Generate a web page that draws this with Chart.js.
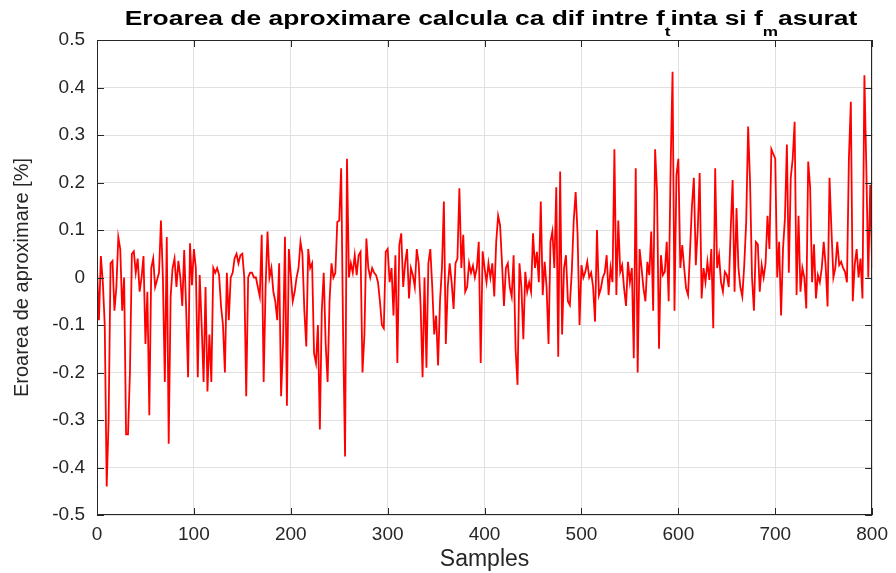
<!DOCTYPE html>
<html>
<head>
<meta charset="utf-8">
<script src="https://cdn.jsdelivr.net/npm/chart.js@4.4.1/dist/chart.umd.min.js"></script>
<style>
  html, body { margin: 0; padding: 0; background: #fff; }
</style>
</head>
<body>
<canvas id="c" width="896" height="573"></canvas>
<script>
// ===== Eroarea de aproximare — grafic (Chart.js) =====
// valori, la fiecare 2 esantioane (0..800)

const STEP = 2;
const errA = [ // esantioane 0..198
  0.02, -0.09, 0.045, -0.01, -0.1, -0.44, -0.3, 0.03, 0.035, -0.07,
  -0.02, 0.085, 0.06, -0.07, 0.0, -0.33, -0.33, -0.2, 0.05, 0.055,
  0.01, 0.04, -0.03, 0.0, 0.045, -0.14, -0.03, -0.29, 0.02, 0.04,
  -0.02, -0.005, 0.01, 0.12, 0.0, -0.22, 0.085, -0.35, -0.04, 0.02,
  0.04, -0.02, 0.035, 0.0, -0.06, 0.058, -0.065, -0.21, 0.072, -0.016,
  0.06, 0.02, -0.21, 0.005, -0.1, -0.22, -0.02, -0.24, -0.12, -0.22,
  0.02, 0.01, 0.02, 0.005, -0.06, -0.1, -0.2, 0.01, -0.09, 0.0,
  0.01, 0.04, 0.05, 0.03, 0.047, 0.05, 0.0, -0.25, 0.0, 0.01,
  0.01, 0.0, 0.0, -0.02, -0.04, 0.09, -0.22, -0.02, 0.097, 0.0,
  0.02, -0.03, -0.05, -0.09, 0.03, -0.25, -0.14, 0.086, -0.27, 0.06
];
const errB = [ // esantioane 200..398
  0.005, -0.05, -0.03, 0.0, 0.02, 0.075, 0.05, -0.07, -0.145, 0.06,
  0.02, 0.03, -0.16, -0.18, -0.1, -0.32, -0.07, 0.01, -0.14, -0.22,
  -0.05, 0.03, 0.0, 0.01, 0.117, 0.12, 0.23, -0.12, -0.377, 0.25,
  0.0, 0.03, 0.01, 0.047, 0.005, 0.047, 0.054, -0.2, -0.12, 0.082,
  0.02, 0.0, 0.02, 0.01, 0.005, -0.01, -0.05, -0.1, -0.107, 0.054,
  0.06, -0.01, 0.02, -0.08, 0.047, -0.18, 0.068, 0.093, -0.02, 0.03,
  0.06, -0.044, 0.02, 0.005, -0.02, 0.06, 0.03, -0.06, -0.21, 0.0,
  -0.19, 0.03, 0.06, -0.02, -0.12, -0.08, -0.185, -0.05, 0.02, 0.16,
  -0.14, -0.02, 0.03, -0.01, -0.066, 0.03, 0.04, 0.188, 0.02, 0.09,
  -0.03, -0.02, 0.03, 0.01, 0.025, 0.0, 0.02, 0.075, -0.18, 0.055
];
const errC = [ // esantioane 400..598
  0.02, -0.01, 0.03, 0.0, 0.03, -0.04, 0.075, 0.13, 0.11, 0.03,
  -0.06, 0.02, 0.03, -0.02, -0.04, 0.047, -0.15, -0.226, 0.03, -0.02,
  -0.13, 0.012, -0.03, -0.01, -0.03, 0.093, 0.02, 0.054, -0.01, 0.16,
  -0.037, 0.033, -0.02, -0.14, 0.075, 0.097, 0.02, 0.19, -0.167, 0.223,
  -0.12, 0.02, 0.047, -0.05, -0.058, 0.012, 0.12, 0.18, 0.09, -0.1,
  0.026, 0.0, 0.012, 0.033, 0.0, 0.01, -0.02, -0.093, 0.1, -0.037,
  -0.023, 0.0, 0.01, 0.047, -0.037, 0.02, -0.01, 0.27, -0.037, 0.12,
  0.012, 0.026, -0.023, -0.06, 0.033, -0.01, 0.02, -0.17, 0.23, -0.2,
  0.06, 0.02, -0.023, -0.05, 0.033, 0.005, 0.097, -0.07, 0.27, 0.18,
  -0.15, 0.047, 0.005, 0.012, 0.075, -0.05, 0.23, 0.433, -0.07, 0.215
];
const errD = [ // esantioane 600..800
  0.25, 0.02, 0.068, 0.02, -0.023, -0.037, 0.054, 0.15, 0.21, 0.026,
  0.1, 0.22, -0.044, 0.02, -0.01, 0.033, -0.005, 0.06, -0.107, 0.23,
  0.02, 0.047, -0.01, -0.03, 0.012, 0.005, -0.02, 0.1, 0.205, -0.03,
  0.146, 0.02, -0.02, -0.04, 0.026, 0.117, 0.318, 0.2, 0.0, -0.07,
  0.075, 0.07, -0.03, 0.026, 0.0, 0.03, 0.13, 0.06, 0.27, 0.26,
  0.25, 0.0, 0.075, -0.08, 0.06, 0.125, 0.28, 0.01, 0.21, 0.25,
  0.328, -0.037, 0.13, -0.03, 0.02, 0.0, -0.065, 0.244, 0.19, -0.01,
  0.07, -0.044, 0.005, -0.01, 0.02, 0.075, 0.026, -0.061, 0.21, 0.1,
  0.0, 0.02, 0.075, 0.026, 0.033, 0.02, 0.012, -0.01, 0.25, 0.37,
  -0.05, 0.026, 0.06, 0.0, 0.04, -0.044, 0.426, 0.23, 0.0, 0.195,
  0.02
];

const X_TICKS = [0, 100, 200, 300, 400, 500, 600, 700, 800];
const Y_TICKS = [-0.5, -0.4, -0.3, -0.2, -0.1, 0, 0.1, 0.2, 0.3, 0.4, 0.5];
const Y_LABELS = ['-0.5', '-0.4', '-0.3', '-0.2', '-0.1', '0', '0.1', '0.2', '0.3', '0.4', '0.5'];

const TITLE_PARTS = [
  { text: 'Eroarea de aproximare calcula ca dif intre f', sub: false },
  { text: 't', sub: true },
  { text: 'inta si f', sub: false },
  { text: 'm', sub: true },
  { text: 'asurat', sub: false }
];
const X_TITLE = 'Samples';
const Y_TITLE = 'Eroarea de aproximare [%]';

const FONT = '"Liberation Sans", Arial, sans-serif';
const TEXT = '#262626';
const AXIS = '#262626';
const GRID = '#e0e0e0';

const points = [...errA, ...errB, ...errC, ...errD].map((v, i) => ({ x: i * STEP, y: v }));

// cadru complet (box on) + gradatii spre interior, ca in MATLAB
const boxPlugin = {
  id: 'box',
  afterDatasetsDraw(chart) {
    const { ctx, chartArea: a, scales: { x, y } } = chart;
    const L = 7;
    ctx.save();
    ctx.strokeStyle = AXIS;
    ctx.lineWidth = 1;
    ctx.beginPath();
    x.ticks.forEach(t => {
      const px = Math.round(x.getPixelForValue(t.value)) + 0.5;
      ctx.moveTo(px, a.bottom); ctx.lineTo(px, a.bottom - L);
      ctx.moveTo(px, a.top); ctx.lineTo(px, a.top + L);
    });
    y.ticks.forEach(t => {
      const py = Math.round(y.getPixelForValue(t.value)) + 0.5;
      ctx.moveTo(a.left, py); ctx.lineTo(a.left + L, py);
      ctx.moveTo(a.right, py); ctx.lineTo(a.right - L, py);
    });
    ctx.stroke();
    ctx.strokeRect(Math.round(a.left) + 0.5, Math.round(a.top) + 0.5,
      Math.round(a.width) - 1, Math.round(a.height) - 1);
    ctx.restore();
  }
};

// titlu cu indici (f_t, f_m); figura originala e latita pe orizontala
const titlePlugin = {
  id: 'subTitle',
  afterDraw(chart) {
    const { ctx } = chart;
    const main = 'bold 20px ' + FONT, small = 'bold 13px ' + FONT;
    const sx = 1.32, center = 491;
    ctx.save();
    ctx.fillStyle = '#000';
    ctx.textBaseline = 'alphabetic';
    let total = 0;
    TITLE_PARTS.forEach(p => { ctx.font = p.sub ? small : main; total += ctx.measureText(p.text).width; });
    ctx.translate(center - total * sx / 2, 0);
    ctx.scale(sx, 1);
    let cx = 0;
    TITLE_PARTS.forEach(p => {
      ctx.font = p.sub ? small : main;
      ctx.fillText(p.text, cx, p.sub ? 36 : 25);
      cx += ctx.measureText(p.text).width;
    });
    ctx.restore();
  }
};

new Chart(document.getElementById('c'), {
  type: 'line',
  data: {
    datasets: [{
      data: points,
      borderColor: '#ff0000',
      borderWidth: 1.8,
      pointRadius: 0,
      tension: 0,
      fill: false
    }]
  },
  options: {
    responsive: false,
    animation: false,
    layout: { padding: { top: 40, right: 21, left: 0, bottom: 0 } },
    plugins: { legend: { display: false }, tooltip: { enabled: false }, title: { display: false } },
    scales: {
      x: {
        type: 'linear', min: 0, max: 800,
        afterBuildTicks: s => { s.ticks = X_TICKS.map(v => ({ value: v })); },
        afterFit: s => { s.height = 58; },
        grid: { color: GRID, drawTicks: false },
        border: { display: false },
        ticks: { padding: 8, color: TEXT, font: { family: FONT, size: 19 }, maxRotation: 0, autoSkip: false },
        title: { display: true, text: X_TITLE, color: TEXT, font: { family: FONT, size: 23 }, padding: { top: 0, bottom: 0 } }
      },
      y: {
        type: 'linear', min: -0.5, max: 0.5,
        afterBuildTicks: s => { s.ticks = Y_TICKS.map(v => ({ value: v })); },
        afterFit: s => { s.width = 97; },
        grid: { color: GRID, drawTicks: false },
        border: { display: false },
        ticks: { padding: 12, color: TEXT, font: { family: FONT, size: 19 }, autoSkip: false,
          callback: (v, i) => Y_LABELS[i] },
        title: { display: true, text: Y_TITLE, color: TEXT, font: { family: FONT, size: 20 }, padding: { top: 10, bottom: 0 } }
      }
    }
  },
  plugins: [boxPlugin, titlePlugin]
});
</script>
</body>
</html>
